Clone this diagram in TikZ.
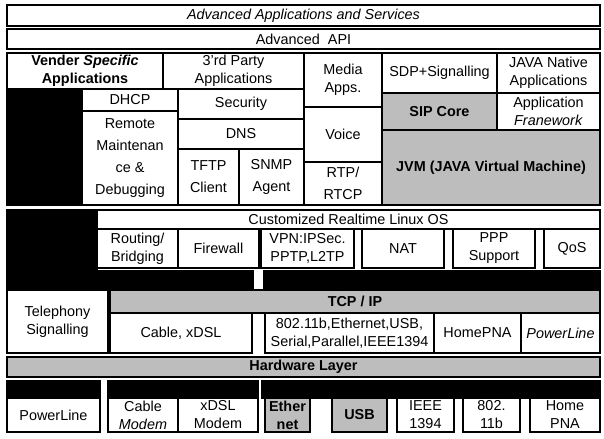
\documentclass[tikz,border=0pt]{standalone}
\usepackage{fontspec}
\setmainfont{Liberation Sans}
\definecolor{shade}{HTML}{BDBDBD}

\begin{document}
\begin{tikzpicture}[x=0.75pt,y=-0.75pt,font=\fontsize{10.8}{13.5}\selectfont,
  box/.style={draw,line width=0.9pt,inner sep=0pt,align=center,fill=white},
  gbox/.style={box,fill=shade,font=\fontsize{10.8}{13.5}\selectfont\bfseries},
  blk/.style={box,fill=black}]
  \useasboundingbox (0,0) rectangle (604,439);
  % application layers
  \foreach \n/\a/\b/\c/\d/\t in {adv/7/5/600/26/{\itshape Advanced Applications and Services},
      api/7/29/600/49/{Advanced~ API},
      vend/7/53/163/89/{\bfseries Vender \textit{Specific}\\\bfseries Applications},
      third/163/53/304/89/{3'rd Party\\Applications},
      media/304/53/382/107/{Media\\Apps.},
      sdp/382/53/497/93/{SDP+Signalling},
      jnat/497/53/600/93/{JAVA Native\\Applications},
      dhcp/82/89/178/111/{DHCP},
      remote/82/111/178/205/{Remote\\[3pt]Maintenan\\[3pt]ce \&\\[3pt]Debugging},
      secur/178/89/304/119/{Security},
      dns/178/119/304/149/{DNS},
      tftp/178/149/239/205/{TFTP\\[3pt]Client},
      snmp/239/149/304/205/{SNMP\\[3pt]Agent},
      voice/304/107/382/162/{Voice},
      rtp/304/162/382/205/{RTP/\\[3pt]RTCP},
      appfw/497/93/600/130/{Application\\\textit{Franework}}}
    \node[box,minimum width={(\c-\a)*0.75pt},minimum height={(\d-\b)*0.75pt}]
      (\n) at ({(\a+\c)/2},{(\b+\d)/2}) {\t};
  % linux and network layers
  \foreach \n/\a/\b/\c/\d/\t in {linux/97/210/600/229/{Customized Realtime Linux OS},
      routing/97/229/178/268/{Routing/\\Bridging},
      fwall/178/229/259/268/{Firewall},
      vpn/261/229/354/268/{VPN:IPSec.\\PPTP,L2TP},
      nat/362/229/444/268/{NAT},
      ppp/453/229/535/268/{PPP\\Support},
      qos/544/229/600/268/{QoS},
      tele/7/290/108/353/{Telephony\\Signalling},
      cable/110/313/252/353/{Cable, xDSL},
      ifaces/265/313/434/353/{802.11b,Ethernet,USB,\\Serial,Parallel,IEEE1394},
      hpnaA/434/313/521/353/{HomePNA},
      plineA/521/313/600/353/{\itshape PowerLine},
      plineB/7/398/100/432/{PowerLine},
      cmodem/108/398/178/432/{Cable\\\textit{Modem}},
      xmodem/178/398/258/432/{xDSL\\Modem},
      ieee/397/398/454/432/{IEEE\\1394},
      wlan/463/398/520/432/{802.\\11b},
      hpnaB/530/398/600/432/{Home\\PNA}}
    \node[box,minimum width={(\c-\a)*0.75pt},minimum height={(\d-\b)*0.75pt}]
      (\n) at ({(\a+\c)/2},{(\b+\d)/2}) {\t};
  % shaded blocks
  \foreach \n/\a/\b/\c/\d/\t in {sip/382/93/497/130/{SIP Core},
      jvm/382/130/600/205/{JVM (JAVA Virtual Machine)},
      tcpip/110/290/600/313/{TCP / IP},
      hwl/7/357/600/377/{Hardware Layer},
      ether/265/398/310/432/{Ether\\net},
      usb/332/398/387/432/{USB}}
    \node[gbox,minimum width={(\c-\a)*0.75pt},minimum height={(\d-\b)*0.75pt}]
      (\n) at ({(\a+\c)/2},{(\b+\d)/2}) {\t};
  % black bars
  \foreach \n/\a/\b/\c/\d in {blA/7/89/82/205,blB/7/210/97/269,barA/7/271/253/290,barB/264/271/600/290,
      hwA/7/381/100/398,hwB/108/381/258/398,hwC/262/381/600/398}
    \node[blk,minimum width={(\c-\a)*0.75pt},minimum height={(\d-\b)*0.75pt}]
      (\n) at ({(\a+\c)/2},{(\b+\d)/2}) {};
\end{tikzpicture}
\end{document}
